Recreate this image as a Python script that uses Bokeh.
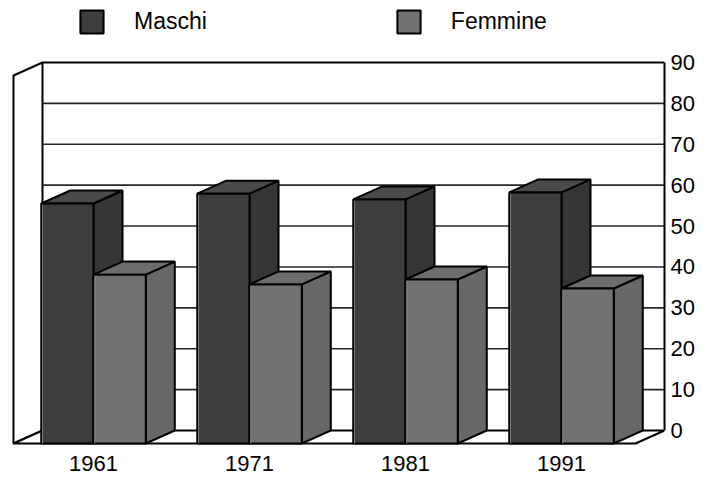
from bokeh.plotting import figure
from bokeh.models import Range1d, FixedTicker, Legend, LegendItem, ColumnDataSource
from bokeh.core.properties import value
from bokeh.embed import file_html
from bokeh.resources import INLINE

# ---- data ----
anni = ["1961", "1971", "1981", "1991"]
maschi = [58.7, 61.1, 59.7, 61.4]
femmine = [41.3, 38.9, 40.1, 37.9]
ticks = [0, 10, 20, 30, 40, 50, 60, 70, 80, 90]

# ---- 3D geometry (data units) ----
W = 0.335      # bar width (category units)
DX = 0.186     # depth shift along x (category units)
DY = 3.18      # depth shift along y (value units)
WALL_L = -0.327
X0, X1 = -0.5962, 3.6603
Y0, Y1 = -11.25, 105.16
YMAX = 90

FONT = "Liberation Sans"

p = figure(frame_width=664, frame_height=476,
           x_range=Range1d(X0, X1), y_range=Range1d(Y0, Y1),
           y_axis_location="right", x_axis_location=None,
           output_backend="svg", toolbar_location=None, min_border=0,
           outline_line_color=None, background_fill_color="white",
           border_fill_color="white")
p.xgrid.visible = False
p.ygrid.visible = False

# left side wall
p.patch([WALL_L, WALL_L, WALL_L - DX, WALL_L - DX], [0, YMAX, YMAX - DY, -DY],
        fill_color="white", line_color="black", line_width=2)
# floor
p.patch([WALL_L - DX, WALL_L, X1, X1 - DX], [-DY, 0, 0, -DY],
        fill_color="white", line_color="black", line_width=2)
# back wall top edge
p.line([WALL_L, X1], [YMAX, YMAX], line_color="black", line_width=2)
# grid lines on back wall
gt = ticks[1:-1]
p.segment(x0=[WALL_L] * len(gt), y0=gt, x1=[X1] * len(gt), y1=gt,
          line_color="#262626", line_width=1.6)


def bars(vals, offset, front, side, top):
    n = len(vals)
    lefts = [i + offset for i in range(n)]
    rights = [l + W for l in lefts]
    side_xs = [[r, r + DX, r + DX, r] for r in rights]
    side_ys = [[-DY, 0, v, v - DY] for v in vals]
    top_xs = [[l, r, r + DX, l + DX] for l, r in zip(lefts, rights)]
    top_ys = [[v - DY, v - DY, v, v] for v in vals]
    p.patches(side_xs, side_ys, fill_color=side, line_color="black", line_width=2)
    p.patches(top_xs, top_ys, fill_color=top, line_color="black", line_width=2)
    src = ColumnDataSource(dict(left=lefts, right=rights, bottom=[-DY] * n,
                                top=[v - DY for v in vals]))
    r = p.quad(left="left", right="right", bottom="bottom", top="top", source=src,
               fill_color=front, line_color="black", line_width=2)
    # light highlight just inside the front edges
    p.segment(x0=[l + 0.008 for l in lefts], y0=[-DY] * n,
              x1=[l + 0.008 for l in lefts], y1=[v - DY - 0.3 for v in vals],
              line_color="#9a9a9a", line_width=1, line_alpha=0.7)
    return r


r_m = bars(maschi, -W, "#3d3d3d", "#363636", "#4a4a4a")
r_f = bars(femmine, 0.0, "#727272", "#676767", "#6d6d6d")

# year labels
p.text(x=list(range(len(anni))), y=[-8.1] * len(anni), text=anni,
       text_align="center", text_baseline="middle",
       text_font=value(FONT), text_font_size="22px", text_color="black")

# right axis
ax = p.yaxis[0]
ax.ticker = FixedTicker(ticks=ticks)
ax.bounds = (0, YMAX)
ax.axis_line_color = "black"
ax.axis_line_width = 2
ax.major_tick_out = 0
ax.major_tick_in = 0
ax.minor_tick_out = 0
ax.minor_tick_in = 0
ax.major_label_standoff = 6
ax.major_label_text_font = FONT
ax.major_label_text_font_size = "22px"
ax.major_label_text_color = "black"

legend = Legend(items=[LegendItem(label="Maschi", renderers=[r_m]),
                       LegendItem(label="Femmine", renderers=[r_f])],
                orientation="horizontal", location=(77, 440),
                glyph_width=29, glyph_height=29, label_standoff=28, spacing=187,
                padding=0, margin=0, border_line_color=None,
                background_fill_alpha=0, label_text_font=FONT,
                label_text_font_size="23px", label_text_color="black")
p.add_layout(legend)

open("out.html", "w").write(file_html(p, INLINE))
